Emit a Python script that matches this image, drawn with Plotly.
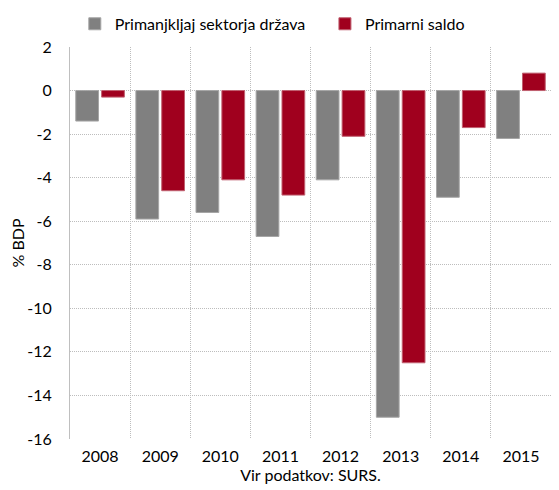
import plotly.graph_objects as go

years = ["2008", "2009", "2010", "2011", "2012", "2013", "2014", "2015"]
primanjkljaj = [-1.4, -5.9, -5.6, -6.7, -4.1, -15.0, -4.9, -2.2]
primarni = [-0.3, -4.6, -4.1, -4.8, -2.1, -12.5, -1.7, 0.8]
y_ticks = [2, 0, -2, -4, -6, -8, -10, -12, -14, -16]

FONT = "Lato"
GRID = "#bdbdbd"
idx = list(range(len(years)))

fig = go.Figure()
fig.add_trace(go.Bar(x=idx, y=primanjkljaj, name="Primanjkljaj sektorja država",
                     legend="legend",
                     marker=dict(color="#808080", line=dict(color="#a6a6a6", width=1))))
fig.add_trace(go.Bar(x=idx, y=primarni, name="Primarni saldo",
                     legend="legend2",
                     marker=dict(color="#a0001e", line=dict(color="#c06070", width=1))))
# invisible trace for category-boundary gridlines
fig.add_trace(go.Scatter(x=[idx[0] - 0.5, idx[-1] + 0.5], y=[None, None], xaxis="x2",
                         showlegend=False, hoverinfo="skip", mode="lines"))

leg_common = dict(orientation="h", yanchor="middle", y=1.059, xanchor="left",
                  font=dict(size=16), itemwidth=30, bgcolor="rgba(0,0,0,0)")

fig.update_layout(
    width=559, height=490,
    margin=dict(l=62, r=16, t=39, b=59, autoexpand=False),
    plot_bgcolor="white", paper_bgcolor="white",
    font=dict(family=FONT, size=16, color="#000"),
    barmode="group", bargap=0.14, bargroupgap=0.12,
    showlegend=True,
    legend=dict(x=0.01, **leg_common),
    legend2=dict(x=0.530, **leg_common),
    xaxis=dict(range=[-0.5, len(years) - 0.5], tickvals=idx, ticktext=years,
               showgrid=False, zeroline=False, showline=False, ticks="",
               automargin=False, tickfont=dict(size=16), ticklabelstandoff=6,
               title=dict(text="Vir podatkov: SURS.", font=dict(size=16), standoff=5)),
    xaxis2=dict(overlaying="x", range=[-0.5, len(years) - 0.5],
                tickvals=[i + 0.5 for i in idx], showticklabels=False,
                showgrid=True, gridcolor=GRID, griddash="1px,1px", gridwidth=1.3,
                zeroline=False, showline=False, ticks="", automargin=False),
    yaxis=dict(range=[-16, 2], tickvals=y_ticks, ticktext=[str(v) for v in y_ticks],
               showgrid=True, gridcolor=GRID, griddash="1px,1px", gridwidth=1.3,
               zeroline=False, showline=True, linecolor="#bfbfbf", linewidth=1,
               ticks="", tickfont=dict(size=16), ticklabelstandoff=14, automargin=False,
               title=dict(text="% BDP", font=dict(size=16), standoff=8)),
)
fig.write_html("out.html")
